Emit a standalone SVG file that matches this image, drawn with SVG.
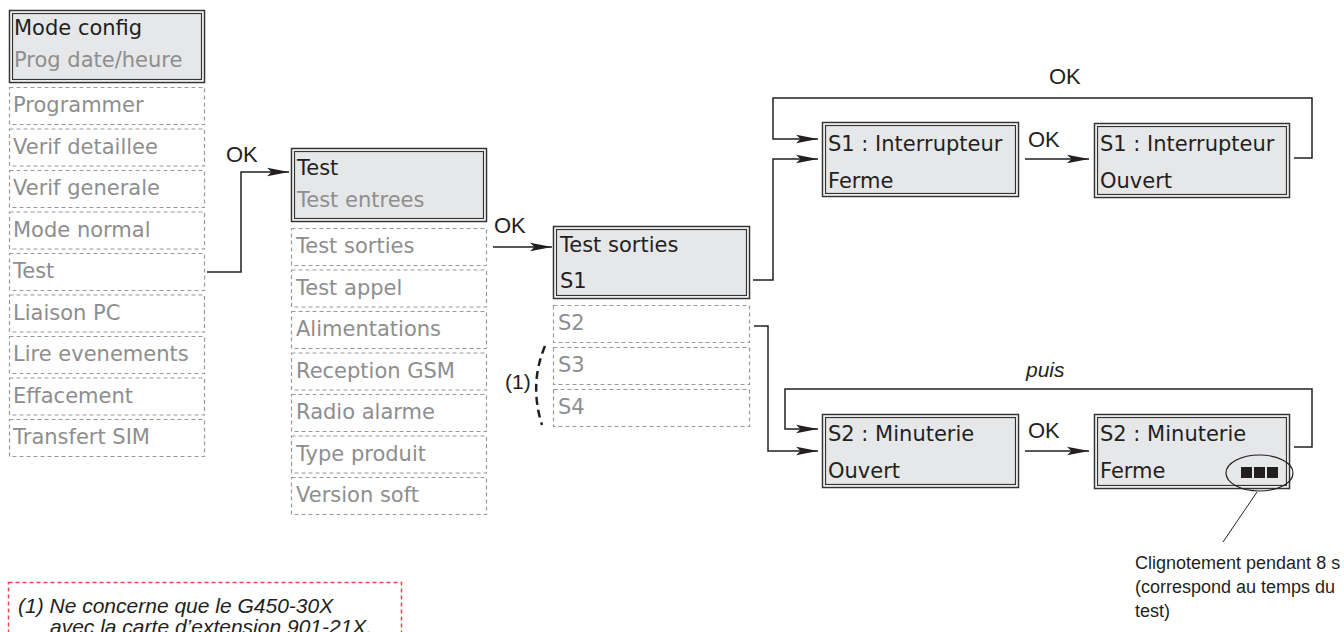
<svg xmlns="http://www.w3.org/2000/svg" width="1344" height="632" viewBox="0 0 1344 632">
<defs>
<style>
.t{font-family:"DejaVu Sans","Liberation Sans",sans-serif;font-size:21px;}
.dk{fill:#231f20;}
.gr{fill:#8e8e8e;}
.lab{font-family:"Liberation Sans",Arial,sans-serif;font-size:21px;fill:#231f20;}
.ok{font-size:22px;}
.note{font-family:"Liberation Sans",Arial,sans-serif;font-size:18px;fill:#231f20;}
.outer{fill:#ffffff;stroke:#333;stroke-width:1.5;}
.inner{fill:#e6e7e8;stroke:#333;stroke-width:1.2;}
.dash{fill:none;stroke:#9a9a9a;stroke-width:1.2;stroke-dasharray:4 3;}
.con{fill:none;stroke:#231f20;stroke-width:1.5;}
</style>
<marker id="arr" markerUnits="userSpaceOnUse" markerWidth="26" markerHeight="12" refX="22" refY="5" orient="auto">
<path d="M0,0.8 L22,5 L0,9.2 L4.5,5 z" fill="#231f20"/>
</marker>
</defs>

<!-- Column 1 -->
<g id="mode-config">
<rect class="outer" x="9.5" y="10.5" width="195" height="72"/>
<rect class="inner" x="12.5" y="13.5" width="189" height="66"/>
<text class="t dk" x="14" y="35">Mode config</text>
<text class="t gr" x="14" y="67">Prog date/heure</text>
</g>
<g id="programmer"><rect class="dash" x="9.5" y="87.5" width="195" height="37"/><text class="t gr" x="13" y="112">Programmer</text></g>
<g id="verif-detaillee"><rect class="dash" x="9.5" y="129" width="195" height="37"/><text class="t gr" x="13" y="153.5">Verif detaillee</text></g>
<g id="verif-generale"><rect class="dash" x="9.5" y="170.5" width="195" height="37"/><text class="t gr" x="13" y="195">Verif generale</text></g>
<g id="mode-normal"><rect class="dash" x="9.5" y="212" width="195" height="37"/><text class="t gr" x="13" y="236.5">Mode normal</text></g>
<g id="test-item"><rect class="dash" x="9.5" y="253.5" width="195" height="37"/><text class="t gr" x="13" y="278">Test</text></g>
<g id="liaison-pc"><rect class="dash" x="9.5" y="295" width="195" height="37"/><text class="t gr" x="13" y="319.5">Liaison PC</text></g>
<g id="lire-evenements"><rect class="dash" x="9.5" y="336.5" width="195" height="37"/><text class="t gr" x="13" y="361">Lire evenements</text></g>
<g id="effacement"><rect class="dash" x="9.5" y="378" width="195" height="37"/><text class="t gr" x="13" y="402.5">Effacement</text></g>
<g id="transfert-sim"><rect class="dash" x="9.5" y="419.5" width="195" height="37"/><text class="t gr" x="13" y="444">Transfert SIM</text></g>

<!-- Column 2 -->
<g id="test">
<rect class="outer" x="291.5" y="148.5" width="195" height="73"/>
<rect class="inner" x="294.5" y="151.5" width="189" height="67"/>
<text class="t dk" x="297" y="175">Test</text>
<text class="t gr" x="297" y="207">Test entrees</text>
</g>
<g id="test-sorties-item"><rect class="dash" x="291.5" y="228.5" width="195" height="37"/><text class="t gr" x="296" y="253">Test sorties</text></g>
<g id="test-appel"><rect class="dash" x="291.5" y="270" width="195" height="37"/><text class="t gr" x="296" y="294.5">Test appel</text></g>
<g id="alimentations"><rect class="dash" x="291.5" y="311.5" width="195" height="37"/><text class="t gr" x="296" y="336">Alimentations</text></g>
<g id="reception-gsm"><rect class="dash" x="291.5" y="353" width="195" height="37"/><text class="t gr" x="296" y="377.5">Reception GSM</text></g>
<g id="radio-alarme"><rect class="dash" x="291.5" y="394.5" width="195" height="37"/><text class="t gr" x="296" y="419">Radio alarme</text></g>
<g id="type-produit"><rect class="dash" x="291.5" y="436" width="195" height="37"/><text class="t gr" x="296" y="460.5">Type produit</text></g>
<g id="version-soft"><rect class="dash" x="291.5" y="477.5" width="195" height="37"/><text class="t gr" x="296" y="502">Version soft</text></g>

<!-- Column 3 -->
<g id="test-sorties">
<rect class="outer" x="553.5" y="226.5" width="196" height="72"/>
<rect class="inner" x="556.5" y="229.5" width="190" height="66"/>
<text class="t dk" x="560" y="252">Test sorties</text>
<text class="t dk" x="560" y="288">S1</text>
</g>
<g id="s2"><rect class="dash" x="553.5" y="305.5" width="196" height="37"/><text class="t gr" x="558" y="330">S2</text></g>
<g id="s3"><rect class="dash" x="553.5" y="347.5" width="196" height="37"/><text class="t gr" x="558" y="372">S3</text></g>
<g id="s4"><rect class="dash" x="553.5" y="389.5" width="196" height="37"/><text class="t gr" x="558" y="414">S4</text></g>

<g id="note-1-bracket">
<path d="M545,346 Q529,384 542,425" fill="none" stroke="#231f20" stroke-width="2.5" stroke-dasharray="8 5"/>
<text class="lab" x="505" y="389">(1)</text>
</g>

<!-- S1 boxes -->
<g id="s1-ferme">
<rect class="outer" x="822.5" y="122.5" width="196" height="74"/>
<rect class="inner" x="825.5" y="125.5" width="190" height="68"/>
<text class="t dk" x="828" y="151">S1 : Interrupteur</text>
<text class="t dk" x="828" y="188">Ferme</text>
</g>
<g id="s1-ouvert">
<rect class="outer" x="1094.5" y="123.5" width="195" height="74"/>
<rect class="inner" x="1097.5" y="126.5" width="189" height="68"/>
<text class="t dk" x="1100" y="151">S1 : Interrupteur</text>
<text class="t dk" x="1100" y="188">Ouvert</text>
</g>

<!-- S2 boxes -->
<g id="s2-ouvert">
<rect class="outer" x="822.5" y="414.5" width="196" height="73"/>
<rect class="inner" x="825.5" y="417.5" width="190" height="67"/>
<text class="t dk" x="828" y="441">S2 : Minuterie</text>
<text class="t dk" x="828" y="478">Ouvert</text>
</g>
<g id="s2-ferme">
<rect class="outer" x="1094.5" y="414.5" width="195" height="74"/>
<rect class="inner" x="1097.5" y="417.5" width="189" height="68"/>
<text class="t dk" x="1100" y="441">S2 : Minuterie</text>
<text class="t dk" x="1100" y="478">Ferme</text>
<rect x="1241" y="467" width="11" height="11" fill="#231f20"/>
<rect x="1254" y="467" width="11" height="11" fill="#231f20"/>
<rect x="1267" y="467" width="11" height="11" fill="#231f20"/>
<ellipse cx="1259.5" cy="473" rx="33.5" ry="18" fill="none" stroke="#231f20" stroke-width="1.2"/>
</g>

<!-- Connectors -->
<g id="connectors">
<path class="con" d="M207,272 H241 V172 H289" marker-end="url(#arr)"/>
<path class="con" d="M493,247 H552" marker-end="url(#arr)"/>
<path class="con" d="M753,280 H773 V159 H818" marker-end="url(#arr)"/>
<path class="con" d="M1294,158 H1312 V98 H773 V139 H818" marker-end="url(#arr)"/>
<path class="con" d="M1025,159 H1089" marker-end="url(#arr)"/>
<path class="con" d="M754,326 H768 V451 H818" marker-end="url(#arr)"/>
<path class="con" d="M1294,447 H1312 V389 H785 V429 H818" marker-end="url(#arr)"/>
<path class="con" d="M1025,451 H1089" marker-end="url(#arr)"/>
<path d="M1257,492 L1223,542" fill="none" stroke="#231f20" stroke-width="1"/>
</g>

<!-- Labels -->
<g id="labels">
<text class="lab ok" x="226" y="162">OK</text>
<text class="lab ok" x="494" y="233">OK</text>
<text class="lab ok" x="1049" y="84">OK</text>
<text class="lab ok" x="1028" y="147">OK</text>
<text class="lab ok" x="1028" y="438">OK</text>
<text class="lab" x="1026" y="377" font-style="italic">puis</text>
<text class="note" x="1135" y="569">Clignotement pendant 8 s</text>
<text class="note" x="1135" y="593">(correspond au temps du</text>
<text class="note" x="1135" y="617">test)</text>
</g>

<!-- Footnote -->
<g id="footnote">
<rect x="8.5" y="582.5" width="393" height="70" fill="none" stroke="#e8454f" stroke-width="1.5" stroke-dasharray="4 3"/>
<text class="lab" x="18" y="613" font-style="italic">(1) Ne concerne que le G450-30X</text>
<text class="lab" x="50" y="634" font-style="italic">avec la carte d’extension 901-21X.</text>
</g>
</svg>
